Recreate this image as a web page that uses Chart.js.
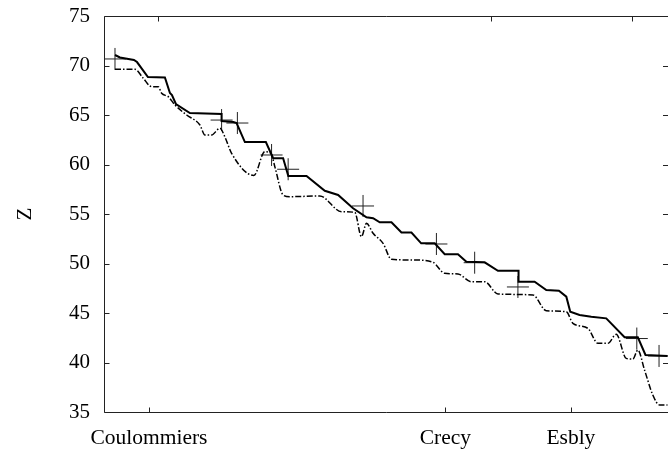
<!DOCTYPE html>
<html>
<head>
<meta charset="utf-8">
<script src="https://cdn.jsdelivr.net/npm/chart.js@4"></script>
<style>
html,body{margin:0;padding:0;background:#fff;}
canvas{display:block;}
</style>
</head>
<body>
<canvas id="c" width="668" height="453"></canvas>
<script>
// ---- data ----
const xTickValues = [7.97, 60.53, 82.78];
const xTickLabels = ['Coulommiers', 'Crecy', 'Esbly'];
const yTickValues = [35, 40, 45, 50, 55, 60, 65, 70, 75];

const solidX = [1.95,2.83,5.31,5.85,7.79,10.80,11.69,12.05,12.75,15.23,20.85,20.85,22.94,23.51,24.98,28.70,29.99,31.76,32.68,35.91,39.15,41.51,44.16,46.54,47.71,48.89,50.97,52.74,54.51,56.24,58.64,60.41,62.76,64.25,67.49,69.85,73.50,73.50,76.35,78.42,80.66,81.97,82.67,84.32,86.40,89.05,92.30,94.65,96.01,99.91];
const solidZ = [71.06,70.81,70.56,70.35,68.84,68.79,67.22,67.02,66.11,65.20,65.10,64.39,64.29,64.19,62.27,62.27,60.63,60.63,58.84,58.84,57.35,56.92,55.58,54.67,54.57,54.16,54.16,53.13,53.13,52.04,52.04,50.93,50.93,50.18,50.12,49.27,49.27,48.16,48.16,47.32,47.25,46.65,45.13,44.80,44.63,44.46,42.55,42.55,40.76,40.66];

const dashX = [1.95,5.49,6.96,8.45,9.62,10.22,11.39,12.58,14.65,17.01,17.89,19.08,20.55,21.44,22.62,26.57,28.52,29.58,30.29,31.76,32.95,38.26,42.11,44.46,45.65,46.54,47.71,49.48,50.97,55.39,58.33,60.41,62.76,65.14,67.49,69.85,76.05,78.42,81.97,83.14,85.79,87.56,89.34,90.82,92.59,93.77,94.65,95.84,97.31,98.49,99.91];
const dashZ = [69.62,69.62,68.71,67.86,67.86,67.19,66.85,66.01,65.00,63.99,62.98,62.98,63.66,62.78,61.13,58.89,61.29,61.16,59.78,56.92,56.75,56.82,55.23,55.17,52.71,54.06,53.05,52.04,50.42,50.35,50.12,49.01,48.94,48.16,48.16,46.92,46.82,45.23,45.13,43.96,43.45,41.94,41.94,42.85,40.42,40.35,41.26,39.24,36.72,35.71,35.71];

const crossX = [1.95,20.85,23.65,29.71,32.65,45.93,58.94,65.72,73.39,94.47,98.41];
const crossZ = [70.66,64.49,64.19,60.96,59.52,55.81,51.97,50.08,47.63,42.42,40.66];

const toPts = (xs, ys) => xs.map((x, i) => ({x: x, y: ys[i]}));
const FONT = "'Liberation Serif', 'DejaVu Serif', 'Times New Roman', serif";

const framePlugin = {
  id: 'frame',
  afterDatasetsDraw(chart) {
    const ctx = chart.ctx;
    const a = chart.chartArea;
    const xs = chart.scales.x, x2 = chart.scales.x2, ys = chart.scales.y;
    const L = 5;
    ctx.save();
    ctx.strokeStyle = '#222';
    ctx.lineWidth = 1;
    ctx.beginPath();
    const l = Math.round(a.left) + 0.5, t = Math.round(a.top) + 0.5, b = Math.round(a.bottom) + 0.5, r = a.right;
    ctx.moveTo(r, t); ctx.lineTo(l, t); ctx.lineTo(l, b); ctx.lineTo(r, b);
    yTickValues.forEach(v => {
      const py = Math.round(ys.getPixelForValue(v)) + 0.5;
      ctx.moveTo(l, py); ctx.lineTo(l + L, py);
      ctx.moveTo(r, py); ctx.lineTo(r - L, py);
    });
    xTickValues.forEach(v => {
      const px = Math.round(xs.getPixelForValue(v)) + 0.5;
      ctx.moveTo(px, b); ctx.lineTo(px, b - L);
      const qx = Math.round(x2.getPixelForValue(v)) + 0.5;
      ctx.moveTo(qx, t); ctx.lineTo(qx, t + L);
    });
    ctx.stroke();
    ctx.restore();
  }
};

new Chart(document.getElementById('c'), {
  type: 'scatter',
  data: {
    datasets: [
      {
        data: toPts(solidX, solidZ),
        showLine: true, borderColor: '#000', borderWidth: 2,
        pointRadius: 0, tension: 0, fill: false
      },
      {
        data: toPts(dashX, dashZ),
        showLine: true, borderColor: '#000', borderWidth: 1.5,
        borderDash: [6, 2, 1.5, 2],
        pointRadius: 0, cubicInterpolationMode: 'monotone', fill: false
      },
      {
        data: toPts(crossX, crossZ),
        showLine: false, pointStyle: 'cross', pointRadius: 11,
        pointBorderColor: '#222', pointBorderWidth: 1, borderColor: '#222',
        clip: false
      }
    ]
  },
  options: {
    responsive: false,
    animation: false,
    events: [],
    layout: { autoPadding: false, padding: { top: 16, right: 0, left: 0, bottom: 0 } },
    plugins: { legend: { display: false }, tooltip: { enabled: false } },
    scales: {
      x: {
        type: 'linear', position: 'bottom', min: 0, max: 100,
        afterBuildTicks: s => { s.ticks = xTickValues.map(v => ({ value: v })); },
        afterFit: s => { s.height = 41; s.paddingLeft = 0; s.paddingRight = 0; },
        grid: { display: false, drawTicks: false },
        border: { display: false },
        ticks: {
          autoSkip: false, maxRotation: 0, padding: 13, color: '#000',
          font: { family: FONT, size: 21.5 },
          callback: (v, i) => xTickLabels[i]
        }
      },
      x2: {
        type: 'linear', position: 'top', min: -0.49, max: 88.42,
        afterBuildTicks: s => { s.ticks = xTickValues.map(v => ({ value: v })); },
        afterFit: s => { s.height = 0; s.paddingLeft = 0; s.paddingRight = 0; },
        grid: { display: false, drawTicks: false },
        border: { display: false },
        ticks: { display: false }
      },
      y: {
        type: 'linear', position: 'left', min: 35, max: 75,
        afterBuildTicks: s => { s.ticks = yTickValues.map(v => ({ value: v })); },
        afterFit: s => { s.width = 104; s.paddingTop = 0; s.paddingBottom = 0; },
        grid: { display: false, drawTicks: false },
        border: { display: false },
        title: {
          display: true, text: 'Z', color: '#000',
          font: { family: FONT, size: 21 },
          padding: { top: 13, bottom: 0 }
        },
        ticks: {
          padding: 14, color: '#000',
          font: { family: FONT, size: 21 }
        }
      }
    }
  },
  plugins: [framePlugin]
});
</script>
</body>
</html>
